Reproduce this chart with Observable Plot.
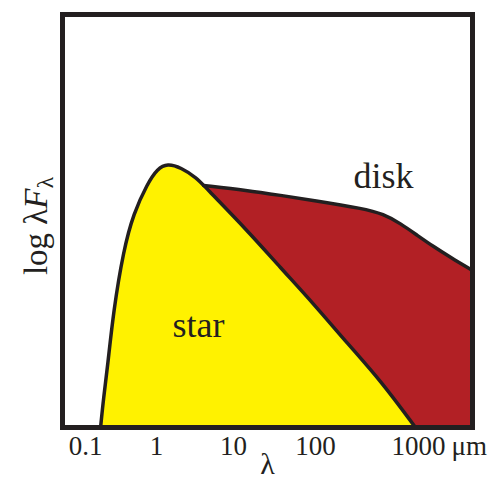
<!DOCTYPE html>
<html>
<head>
<meta charset="utf-8">
<script src="https://cdn.jsdelivr.net/npm/d3@7"></script>
<script src="https://cdn.jsdelivr.net/npm/@observablehq/plot@0.6"></script>
<style>
  html, body { margin: 0; padding: 0; background: #fff; }
  svg { display: block; }
</style>
</head>
<body>
<div id="chart"></div>
<script>
// Schematic SED of a young star with a circumstellar disk (log λFλ, arbitrary units)
const starWavelength = [0.163, 0.18, 0.204, 0.248, 0.343, 0.474, 0.747, 1.03, 1.39, 2.05, 3.41, 4.08, 14.8, 37.4, 94.6, 205, 428, 935];
const starFlux       = [0, 0.73, 1.45, 2.83, 4.29, 5.18, 5.91, 6.27, 6.39, 6.30, 6.03, 5.86, 4.77, 3.87, 3.00, 2.03, 1.14, 0];

const diskWavelength = [4.08, 14.8, 37.4, 94.6, 292, 457, 668, 977, 1400, 2046, 3340];
const diskFlux       = [5.86, 5.74, 5.62, 5.50, 5.30, 5.17, 4.94, 4.65, 4.38, 4.12, 3.80];

const tickValues = [0.1, 1, 10, 100, 1000];
const tickLabels = ["0.1", "1", "10", "100", "1000"];

// Wavelength axis: the decades are not evenly spaced, so the log scale is piecewise
const axisWavelength = [0.03, 0.1, 1, 10, 100, 1000, 4000];
const axisPosition   = [47.9, 85, 156, 233, 315, 418, 480];

const star = starWavelength.map((x, i) => ({x, y: starFlux[i]}));
const disk = diskWavelength.map((x, i) => ({x, y: diskFlux[i]}));

const ink = "#231f20";
const font = "Liberation Serif, Times New Roman, serif";
const curve = "basis";

const plot = Plot.plot({
  width: 504,
  height: 486,
  marginLeft: 62,
  marginRight: 32,
  marginTop: 14,
  marginBottom: 59,
  style: {fontFamily: font, background: "#fff"},
  x: {type: "log", domain: axisWavelength, range: axisPosition, axis: null},
  y: {domain: [0, 10], axis: null},
  marks: [
    Plot.areaY(disk, {x: "x", y: "y", fill: "#b22025", curve}),
    Plot.areaY(star, {x: "x", y: "y", fill: "#fff200", curve}),
    Plot.line(disk, {x: "x", y: "y", stroke: ink, strokeWidth: 3.5, curve, strokeLinejoin: "round"}),
    Plot.line(star, {x: "x", y: "y", stroke: ink, strokeWidth: 3.5, curve, strokeLinejoin: "round"}),
    Plot.frame({stroke: ink, strokeWidth: 5}),
    Plot.text(["disk"], {x: [457], y: [6.07], text: d => d, fontSize: 36, fill: ink}),
    Plot.text(["star"], {x: [3.51], y: [2.46], text: d => d, fontSize: 36, fill: ink}),
    Plot.text(tickValues, {x: d => d, text: (d, i) => tickLabels[i], frameAnchor: "bottom", dy: 27, fontSize: 27, fill: ink}),
    Plot.text(["μm"], {x: [1000], text: d => d, frameAnchor: "bottom", dy: 27, dx: 33, textAnchor: "start", fontSize: 27, fill: ink}),
    Plot.text(["λ"], {frameAnchor: "bottom", text: d => d, dy: 46, fontSize: 30, fill: ink})
  ]
});

// Rotated y-axis label with italic F and subscript λ
const svg = d3.select(plot);
const ylab = svg.append("text")
  .attr("transform", "translate(47,226) rotate(-90)")
  .attr("text-anchor", "middle")
  .attr("font-family", font)
  .attr("font-size", 33)
  .attr("fill", ink);
ylab.append("tspan").text("log λ");
ylab.append("tspan").attr("font-style", "italic").text("F");
ylab.append("tspan").attr("font-size", 24).attr("dy", 6).text("λ");

document.getElementById("chart").appendChild(plot);
</script>
</body>
</html>
